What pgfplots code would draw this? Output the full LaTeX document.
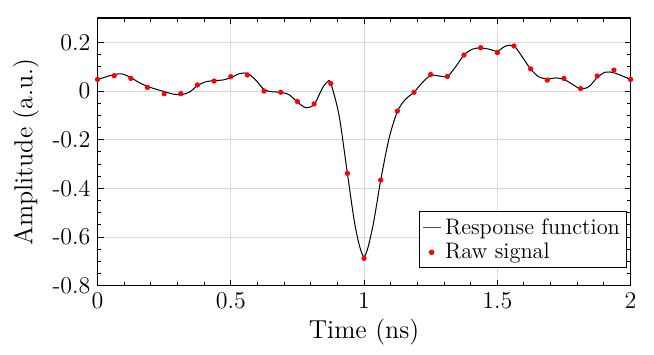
\documentclass[border=0pt]{standalone}
\usepackage{pgfplots}
\pgfplotsset{compat=1.18}
\pgfplotstableread{
x y
0 0.047
0.03125 0.058
0.0625 0.068
0.09375 0.070
0.125 0.055
0.15625 0.035
0.1875 0.019
0.21875 0.008
0.25 -0.002
0.28125 -0.012
0.3125 -0.015
0.34375 -0.005
0.375 0.022
0.40625 0.038
0.4375 0.043
0.46875 0.045
0.5 0.055
0.53125 0.071
0.5625 0.073
0.59375 0.045
0.625 0.006
0.65625 -0.003
0.6875 -0.005
0.71875 -0.015
0.75 -0.045
0.78125 -0.068
0.8125 -0.055
0.84375 0.012
0.8625 0.038
0.875 0.032
0.90625 -0.10
0.9375 -0.338
0.96875 -0.567
1.0 -0.680
1.03125 -0.565
1.0625 -0.366
1.09375 -0.195
1.125 -0.084
1.15625 -0.033
1.1875 -0.005
1.21875 0.035
1.25 0.064
1.28125 0.062
1.3125 0.060
1.34375 0.100
1.375 0.148
1.40625 0.172
1.4375 0.177
1.46875 0.172
1.5 0.164
1.53125 0.185
1.5625 0.185
1.59375 0.140
1.625 0.090
1.65625 0.058
1.6875 0.050
1.71875 0.054
1.75 0.048
1.78125 0.028
1.8125 0.009
1.84375 0.018
1.875 0.056
1.90625 0.078
1.9375 0.075
1.96875 0.062
2 0.048
}\curve
\pgfplotstableread{
x y
0 0.048
0.0625 0.063
0.125 0.052
0.1875 0.015
0.25 -0.011
0.3125 -0.011
0.375 0.025
0.4375 0.041
0.5 0.059
0.5625 0.066
0.625 0.0
0.6875 -0.005
0.75 -0.043
0.8125 -0.053
0.875 0.031
0.9375 -0.338
1.0 -0.687
1.0625 -0.366
1.125 -0.082
1.1875 -0.005
1.25 0.068
1.3125 0.060
1.375 0.148
1.4375 0.178
1.5 0.158
1.5625 0.185
1.625 0.091
1.6875 0.045
1.75 0.052
1.8125 0.010
1.875 0.062
1.9375 0.086
2.0 0.048
}\raw
\begin{document}
\begin{tikzpicture}
\begin{axis}[name=ax, scale only axis, width=266.5pt, height=133.9pt,
  xmin=0, xmax=2, ymin=-0.8, ymax=0.3,
  xtick={0,0.5,1,1.5,2}, ytick={-0.8,-0.6,-0.4,-0.2,0,0.2},
  minor x tick num=4, minor y tick num=3,
  tick align=inside, major tick length=3pt, minor tick length=1.8pt,
  xtick pos=both, ytick pos=both,
  grid=major, major grid style={black!15, line width=0.4pt},
  axis line style={line width=0.6pt},
  every tick/.style={black, line width=0.5pt},
  /pgf/number format/assume math mode=true,
  tick label style={font=\fontsize{12}{14}\selectfont},
  xlabel={Time (ns)}, ylabel={Amplitude (a.u.)},
  label style={font=\fontsize{13}{15}\selectfont},
  xlabel style={yshift=2pt},
  legend style={at={(rel axis cs:0.993,0.065)}, anchor=south east,
    font=\fontsize{11.2}{13}\selectfont, draw=black, line width=0.5pt,
    inner sep=1.2pt, row sep=-1pt, fill=white},
  legend cell align=left,
]
\addplot[black, line width=0.5pt, smooth, tension=0.5,
  legend image code/.code={\draw[black!70, line width=0.5pt] (0pt,0pt) -- (9pt,0pt);}]
  table[x=x,y=y] {\curve};
\addlegendentry{Response function}
\addplot[only marks, mark=*, mark size=1.1pt, red, mark options={draw=red, fill=red},
  legend image code/.code={\fill[red] (4.5pt,0pt) circle (1.1pt);}]
  table[x=x,y=y] {\raw};
\addlegendentry{Raw signal}
\end{axis}
\pgfresetboundingbox
\useasboundingbox ([xshift=-48.75pt,yshift=-34.1pt]ax.south west) rectangle ([xshift=11.7pt,yshift=9pt]ax.north east);
\end{tikzpicture}
\end{document}
